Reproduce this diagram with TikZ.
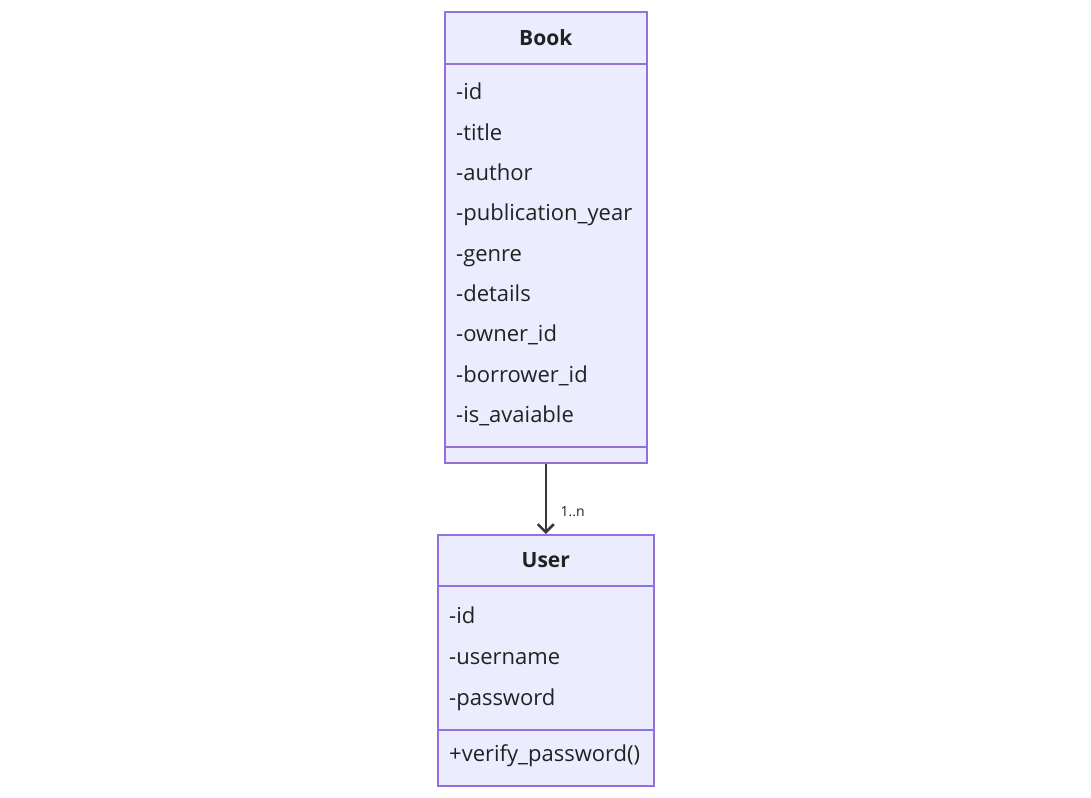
\documentclass[tikz,border=0pt]{standalone}
\usepackage{fontspec}
\setmainfont{Open Sans}
\usetikzlibrary{arrows.meta}
\usetikzlibrary{positioning}
\definecolor{class-fill}{HTML}{ECECFF}
\definecolor{class-line}{HTML}{9370DB}
\definecolor{class-text}{HTML}{222222}
\colorlet{link}{class-text!90!white}
\newcommand{\classpart}[4]{%
\node[classbox,minimum width=#3pt,minimum height=#4pt] (#1) at (#2) {};
}
\begin{document}
\begin{tikzpicture}[x=1pt,y=-1pt,
  classbox/.style={draw=class-line,fill=class-fill,line width=1.6pt,anchor=north west,inner sep=0pt},
  classname/.style={font=\fontsize{21}{24}\selectfont\bfseries,text=class-text},
  member/.style={font=\fontsize{22}{26}\selectfont,text=class-text,anchor=base west,inner sep=0pt}]
\useasboundingbox (0,0) rectangle (1091,797);
% Book
\classpart{bookhead}{444,11}{202}{52}
\classpart{bookattr}{444,63}{202}{383}
\classpart{bookops}{444,446}{202}{16}
\node[classname] (booktitle) at (bookhead.center) {Book};
\foreach \attr [count=\i] in {id,title,author,publication\_year,genre,details,owner\_id,borrower\_id,is\_avaiable} {
  \node[member] (bookattr\i) at (456,{100+40.3*(\i-1)}) {-\attr};
}
% User
\classpart{userhead}{437,534}{216}{51}
\classpart{userattr}{437,585}{216}{144}
\classpart{userops}{437,729}{216}{56}
\node[classname] (usertitle) at (userhead.center) {User};
\foreach \attr [count=\i] in {id,username,password} {
  \node[member] (userattr\i) at (449,{623+41*(\i-1)}) {-\attr};
}
\node[member] (userop1) at (449,761) {+verify\_password()};
% link
\draw[link,line width=1.6pt,-{Straight Barb[length=8pt,width=16pt,line width=2.6pt]}] (bookops.south) -- (userhead.north)
  node[pos=0.68,right=14pt,font=\fontsize{14}{16}\selectfont,text=class-text,inner sep=0pt] (booklinklabel) {1..n};
\end{tikzpicture}
\end{document}
